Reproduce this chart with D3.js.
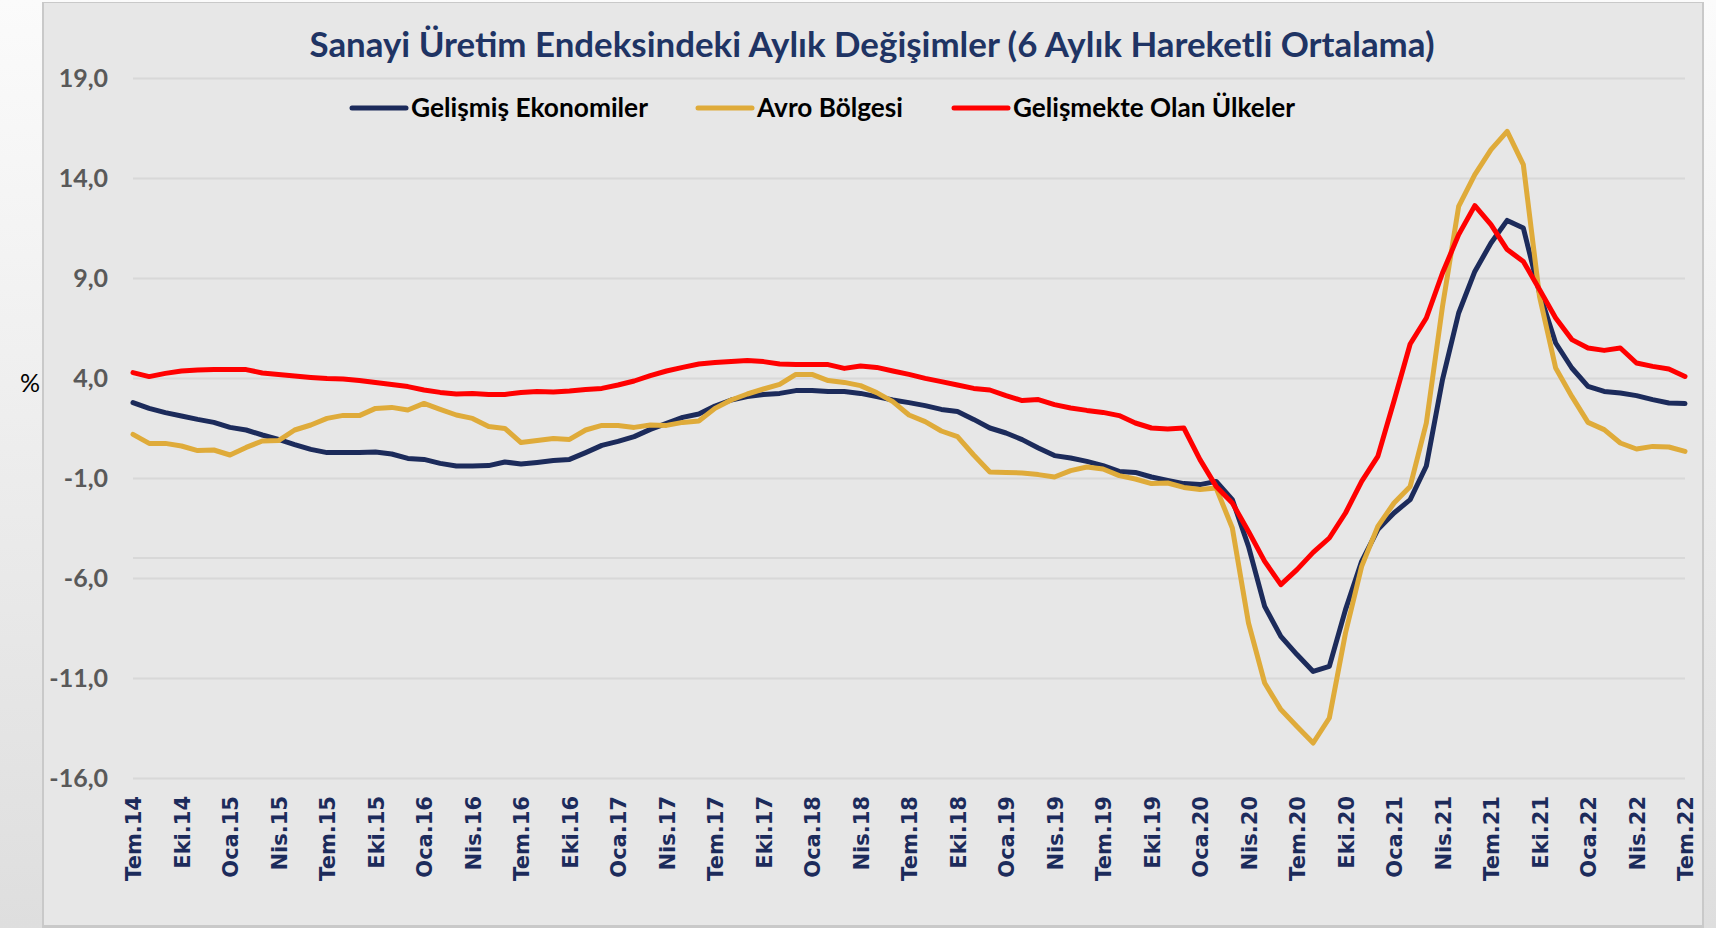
<!DOCTYPE html>
<html>
<head>
<meta charset="utf-8">
<script src="https://cdn.jsdelivr.net/npm/d3@7"></script>
<style>
  body { margin: 0; background: #efefef; overflow: hidden; }
  svg { display: block; }
</style>
</head>
<body>
<svg id="chart" width="1716" height="928"></svg>
<script>
// monthly categories, Tem.14 .. Tem.22
var categories = [
  "Tem.14","Ağu.14","Eyl.14","Eki.14","Kas.14","Ara.14",
  "Oca.15","Şub.15","Mar.15","Nis.15","May.15","Haz.15","Tem.15","Ağu.15","Eyl.15","Eki.15","Kas.15","Ara.15",
  "Oca.16","Şub.16","Mar.16","Nis.16","May.16","Haz.16","Tem.16","Ağu.16","Eyl.16","Eki.16","Kas.16","Ara.16",
  "Oca.17","Şub.17","Mar.17","Nis.17","May.17","Haz.17","Tem.17","Ağu.17","Eyl.17","Eki.17","Kas.17","Ara.17",
  "Oca.18","Şub.18","Mar.18","Nis.18","May.18","Haz.18","Tem.18","Ağu.18","Eyl.18","Eki.18","Kas.18","Ara.18",
  "Oca.19","Şub.19","Mar.19","Nis.19","May.19","Haz.19","Tem.19","Ağu.19","Eyl.19","Eki.19","Kas.19","Ara.19",
  "Oca.20","Şub.20","Mar.20","Nis.20","May.20","Haz.20","Tem.20","Ağu.20","Eyl.20","Eki.20","Kas.20","Ara.20",
  "Oca.21","Şub.21","Mar.21","Nis.21","May.21","Haz.21","Tem.21","Ağu.21","Eyl.21","Eki.21","Kas.21","Ara.21",
  "Oca.22","Şub.22","Mar.22","Nis.22","May.22","Haz.22","Tem.22"
];

// labels shown on the x axis (every 3 months)
var tickLabels = [
  "Tem.14","Eki.14","Oca.15","Nis.15","Tem.15","Eki.15","Oca.16","Nis.16","Tem.16","Eki.16",
  "Oca.17","Nis.17","Tem.17","Eki.17","Oca.18","Nis.18","Tem.18","Eki.18","Oca.19","Nis.19",
  "Tem.19","Eki.19","Oca.20","Nis.20","Tem.20","Eki.20","Oca.21","Nis.21","Tem.21","Eki.21",
  "Oca.22","Nis.22","Tem.22"
];

var yTicks = [19, 14, 9, 4, -1, -6, -11, -16];

// Gelişmiş Ekonomiler
var gelismis = [
  2.77, 2.48, 2.27, 2.10, 1.93, 1.78, 1.53, 1.40, 1.15, 0.93,
  0.67, 0.43, 0.27, 0.27, 0.27, 0.30, 0.20, -0.02, -0.07, -0.27,
  -0.40, -0.40, -0.38, -0.20, -0.30, -0.22, -0.13, -0.07, 0.27, 0.63,
  0.83, 1.07, 1.43, 1.73, 2.03, 2.20, 2.60, 2.90, 3.07, 3.18,
  3.23, 3.37, 3.37, 3.32, 3.32, 3.23, 3.07, 2.90, 2.77, 2.62,
  2.43, 2.32, 1.93, 1.50, 1.25, 0.92, 0.50, 0.12, 0.00, -0.17,
  -0.38, -0.67, -0.72, -0.95, -1.12, -1.28, -1.33, -1.17, -2.08, -4.42,
  -7.42, -8.92, -9.83, -10.67, -10.42, -7.58, -5.17, -3.58, -2.75, -2.08,
  -0.40, 3.92, 7.25, 9.33, 10.75, 11.88, 11.50, 8.25, 5.75, 4.50,
  3.58, 3.33, 3.25, 3.12, 2.92, 2.75, 2.72
];

// Avro Bölgesi
var avro = [
  1.18, 0.73, 0.73, 0.60, 0.37, 0.40, 0.15, 0.53, 0.85, 0.87,
  1.40, 1.65, 1.98, 2.13, 2.12, 2.48, 2.53, 2.40, 2.73, 2.43,
  2.15, 1.98, 1.57, 1.48, 0.77, 0.87, 0.98, 0.93, 1.40, 1.63,
  1.62, 1.53, 1.65, 1.63, 1.78, 1.85, 2.48, 2.90, 3.20, 3.45,
  3.68, 4.18, 4.18, 3.87, 3.78, 3.62, 3.27, 2.82, 2.15, 1.82,
  1.35, 1.07, 0.15, -0.70, -0.72, -0.75, -0.83, -0.95, -0.63, -0.45,
  -0.55, -0.88, -1.05, -1.28, -1.25, -1.47, -1.58, -1.50, -3.50, -8.25,
  -11.25, -12.58, -13.42, -14.25, -13.00, -8.75, -5.42, -3.42, -2.25, -1.42,
  1.75, 7.58, 12.58, 14.17, 15.42, 16.33, 14.67, 8.08, 4.50, 3.08,
  1.78, 1.42, 0.75, 0.45, 0.58, 0.55, 0.33
];

// Gelişmekte Olan Ülkeler
var gelismekte = [
  4.27, 4.07, 4.23, 4.35, 4.40, 4.43, 4.43, 4.42, 4.25, 4.18,
  4.10, 4.03, 3.97, 3.95, 3.87, 3.77, 3.68, 3.57, 3.40, 3.28,
  3.20, 3.23, 3.18, 3.18, 3.27, 3.32, 3.30, 3.35, 3.43, 3.48,
  3.65, 3.85, 4.12, 4.35, 4.53, 4.70, 4.77, 4.83, 4.87, 4.82,
  4.70, 4.67, 4.67, 4.67, 4.48, 4.60, 4.53, 4.35, 4.18, 3.98,
  3.82, 3.65, 3.48, 3.40, 3.12, 2.87, 2.92, 2.67, 2.50, 2.38,
  2.28, 2.12, 1.75, 1.50, 1.45, 1.50, -0.08, -1.42, -2.25, -3.67,
  -5.17, -6.33, -5.58, -4.72, -4.00, -2.75, -1.17, 0.08, 2.85, 5.70,
  7.00, 9.25, 11.17, 12.62, 11.67, 10.42, 9.83, 8.42, 7.00, 5.92,
  5.50, 5.38, 5.50, 4.75, 4.58, 4.45, 4.08
];

var seriesNames = ["Gelişmiş Ekonomiler", "Avro Bölgesi", "Gelişmekte Olan Ülkeler"];
var seriesColors = ["#1c2b5b", "#dfab3a", "#ff0000"];

function init(){

  var svg = d3.select("#chart");

  // plot area
  var left = 133, right = 1685, top = 78, bottom = 778;

  var x = d3.scalePoint()
      .domain(categories)
      .range([left, right]);

  var y = d3.scaleLinear()
      .domain([-16, 19])
      .range([bottom, top]);

  // page background and panel
  var defs = svg.append("defs");
  var grad = defs.append("linearGradient").attr("id", "bg").attr("x1", 0).attr("y1", 0).attr("x2", 0).attr("y2", 1);
  grad.append("stop").attr("offset", "0%").attr("stop-color", "#fbfbfb");
  grad.append("stop").attr("offset", "100%").attr("stop-color", "#dedede");

  svg.append("rect")
    .attr("width", 1716).attr("height", 928)
    .attr("fill", "url(#bg)");

  svg.append("rect")
    .attr("x", 42).attr("y", 2)
    .attr("width", 1662).attr("height", 926)
    .attr("fill", "#c9c9c9");

  svg.append("rect")
    .attr("x", 44).attr("y", 3)
    .attr("width", 1658).attr("height", 922)
    .attr("fill", "#e7e7e7");

  // y axis with gridlines
  var yAxis = svg.append("g")
    .attr("class", "yaxis")
    .attr("transform", "translate(" + left + ",0)")
    .call(d3.axisLeft(y)
      .tickValues(yTicks)
      .tickSize(-(right - left))
      .tickPadding(25)
      .tickFormat(function(d){ return d.toFixed(1).replace(".", ","); }));

  yAxis.select(".domain").remove();
  yAxis.selectAll("line")
    .attr("stroke", "#d8d8d8")
    .attr("stroke-width", 2);
  yAxis.selectAll("text")
    .attr("fill", "#595959")
    .attr("font-family", "Lato, 'Open Sans', sans-serif")
    .attr("font-weight", "bold")
    .attr("font-size", 25);

  // horizontal axis line
  svg.append("line")
    .attr("x1", left).attr("x2", right)
    .attr("y1", y(-5)).attr("y2", y(-5))
    .attr("stroke", "#d8d8d8")
    .attr("stroke-width", 2);

  // x axis labels
  var xAxis = svg.append("g")
    .attr("class", "xaxis")
    .attr("transform", "translate(0,796)")
    .call(d3.axisBottom(x).tickValues(tickLabels).tickSize(0));

  xAxis.select(".domain").remove();
  xAxis.selectAll("text")
    .attr("x", 0)
    .attr("y", 0)
    .attr("dy", "0.36em")
    .attr("transform", "rotate(-90)")
    .style("text-anchor", "end")
    .attr("fill", "#1c2b5b")
    .attr("font-family", "'DejaVu Sans', sans-serif")
    .attr("font-weight", "bold")
    .attr("font-size", 21);

  // % label
  svg.append("text")
    .attr("x", 30)
    .attr("y", 383)
    .attr("dy", "0.35em")
    .attr("text-anchor", "middle")
    .attr("font-family", "Lato, sans-serif")
    .attr("font-size", 25)
    .attr("fill", "#000")
    .text("%");

  // the lines
  var allSeries = [gelismis, avro, gelismekte];

  var line = d3.line()
    .x(function(d, i){ return x(categories[i]); })
    .y(function(d){ return y(d); });

  svg.append("g")
    .selectAll("path")
    .data(allSeries)
    .enter().append("path")
      .attr("d", line)
      .attr("fill", "none")
      .attr("stroke", function(d, i){ return seriesColors[i]; })
      .attr("stroke-width", 5)
      .attr("stroke-linejoin", "round")
      .attr("stroke-linecap", "round");

  // title
  var title = svg.append("text")
    .attr("x", 872)
    .attr("y", 45)
    .attr("dy", "0.35em")
    .attr("text-anchor", "middle")
    .attr("font-family", "Lato, 'Open Sans', sans-serif")
    .attr("font-weight", "bold")
    .attr("font-size", 30)
    .attr("fill", "#1f3464")
    .text("Sanayi Üretim Endeksindeki Aylık Değişimler (6 Aylık Hareketli Ortalama)");
  fitText(title, 1125);

  // legend
  var legendX = [352, 698, 954];
  var legendW = [237, 146, 282];
  var legendY = 108;

  seriesNames.forEach(function(name, i){
    svg.append("line")
      .attr("x1", legendX[i]).attr("x2", legendX[i] + 54)
      .attr("y1", legendY).attr("y2", legendY)
      .attr("stroke", seriesColors[i])
      .attr("stroke-width", 5)
      .attr("stroke-linecap", "round");

    var t = svg.append("text")
      .attr("x", legendX[i] + 59)
      .attr("y", legendY)
      .attr("dy", "0.35em")
      .attr("font-family", "Lato, 'Open Sans', sans-serif")
      .attr("font-weight", "bold")
      .attr("font-size", 22)
      .attr("fill", "#000")
      .text(name);
    fitText(t, legendW[i]);
  });
}

// scale the font so the text takes the wanted width
function fitText(sel, target){
  var len = sel.node().getComputedTextLength();
  var fs = parseFloat(sel.attr("font-size"));
  if (len > 0) sel.attr("font-size", (fs * target / len).toFixed(2));
}

window.onload = init;
</script>
</body>
</html>
